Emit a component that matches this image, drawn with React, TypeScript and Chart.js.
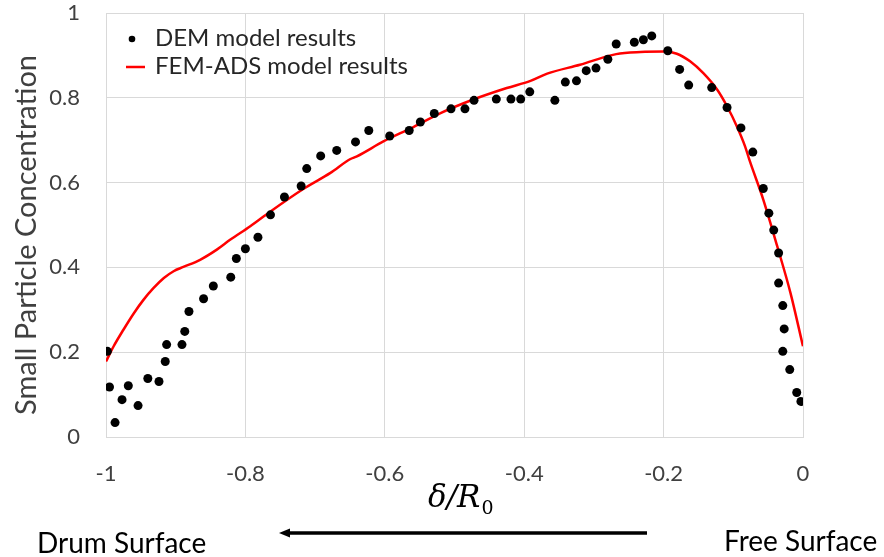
import React, { useEffect, useRef } from "react";
import { Chart, registerables } from "chart.js";

Chart.register(...registerables);

const demX = [-0.998, -0.995, -0.987, -0.977, -0.968, -0.954, -0.94, -0.924, -0.915, -0.913, -0.891, -0.887, -0.881, -0.86, -0.846, -0.821, -0.813, -0.8, -0.782, -0.764, -0.744, -0.72, -0.712, -0.692, -0.669, -0.642, -0.623, -0.593, -0.565, -0.549, -0.529, -0.505, -0.485, -0.472, -0.44, -0.419, -0.405, -0.392, -0.356, -0.341, -0.325, -0.311, -0.297, -0.28, -0.268, -0.242, -0.229, -0.217, -0.194, -0.177, -0.164, -0.131, -0.109, -0.089, -0.072, -0.057, -0.049, -0.042, -0.035, -0.035, -0.029, -0.027, -0.029, -0.019, -0.009, -0.003];
const demY = [0.202, 0.118, 0.034, 0.088, 0.121, 0.074, 0.138, 0.131, 0.178, 0.218, 0.218, 0.249, 0.296, 0.326, 0.356, 0.377, 0.421, 0.444, 0.471, 0.524, 0.566, 0.592, 0.633, 0.663, 0.676, 0.696, 0.723, 0.71, 0.723, 0.743, 0.763, 0.774, 0.774, 0.794, 0.797, 0.797, 0.797, 0.814, 0.794, 0.837, 0.84, 0.864, 0.87, 0.891, 0.927, 0.931, 0.937, 0.946, 0.911, 0.867, 0.83, 0.824, 0.777, 0.729, 0.672, 0.586, 0.528, 0.488, 0.434, 0.363, 0.31, 0.255, 0.202, 0.159, 0.105, 0.084];

const femX = [-1, -0.989, -0.975, -0.96, -0.946, -0.932, -0.917, -0.903, -0.889, -0.865, -0.841, -0.822, -0.793, -0.764, -0.717, -0.678, -0.65, -0.64, -0.602, -0.559, -0.52, -0.473, -0.425, -0.391, -0.367, -0.32, -0.268, -0.233, -0.2, -0.181, -0.162, -0.143, -0.123, -0.109, -0.095, -0.083, -0.077, -0.057, -0.037, -0.018, 0];
const femY = [0.178, 0.214, 0.253, 0.292, 0.324, 0.351, 0.375, 0.391, 0.401, 0.418, 0.442, 0.465, 0.497, 0.532, 0.585, 0.623, 0.655, 0.662, 0.697, 0.731, 0.764, 0.796, 0.823, 0.84, 0.857, 0.878, 0.903, 0.908, 0.909, 0.904, 0.886, 0.858, 0.819, 0.78, 0.733, 0.685, 0.654, 0.56, 0.45, 0.34, 0.214];

const xTickLabels = ["-1", "-0.8", "-0.6", "-0.4", "-0.2", "0"];
const yTickLabels = ["0", "0.2", "0.4", "0.6", "0.8", "1"];

const seriesNames = ["DEM model results", "FEM-ADS model results"];
const yTitle = "Small Particle Concentration";
const leftNote = "Drum Surface";
const rightNote = "Free Surface";

const FONT = "Lato, 'Open Sans', sans-serif";

const overlay = {
  id: "overlay",
  afterDraw(chart: any) {
    const ctx = chart.ctx as CanvasRenderingContext2D;
    ctx.save();
    // legend
    ctx.fillStyle = "#000";
    ctx.beginPath();
    ctx.arc(132, 39, 3.3, 0, Math.PI * 2);
    ctx.fill();
    ctx.strokeStyle = "#ff0000";
    ctx.lineWidth = 2.5;
    ctx.beginPath();
    ctx.moveTo(126, 67);
    ctx.lineTo(145, 67);
    ctx.stroke();
    ctx.fillStyle = "#262626";
    ctx.font = `24px ${FONT}`;
    ctx.textBaseline = "alphabetic";
    ctx.textAlign = "left";
    ctx.fillText(seriesNames[0], 155, 45.5);
    ctx.fillText(seriesNames[1], 155, 73.5);

    // y title
    ctx.save();
    ctx.translate(27, 235);
    ctx.rotate(-Math.PI / 2);
    ctx.textAlign = "center";
    ctx.textBaseline = "middle";
    ctx.fillStyle = "#404040";
    ctx.font = `29px ${FONT}`;
    ctx.fillText(yTitle, 0, 0);
    ctx.restore();

    // x title delta/R0
    ctx.fillStyle = "#000";
    ctx.textAlign = "left";
    ctx.textBaseline = "alphabetic";
    ctx.font = `italic 31px 'DejaVu Serif', serif`;
    ctx.fillText("\u03B4/R", 428, 507);
    const w = ctx.measureText("\u03B4/R").width;
    ctx.font = `19px 'DejaVu Serif', serif`;
    ctx.fillText("0", 428 + w + 1, 514);

    // bottom notes
    ctx.font = `28px ${FONT}`;
    ctx.fillStyle = "#000";
    ctx.fillText(leftNote, 37, 553);
    ctx.fillText(rightNote, 724, 551);

    // arrow
    ctx.strokeStyle = "#000";
    ctx.lineWidth = 3.5;
    ctx.beginPath();
    ctx.moveTo(647, 533);
    ctx.lineTo(286, 533);
    ctx.stroke();
    ctx.beginPath();
    ctx.moveTo(279, 533);
    ctx.lineTo(290, 528.5);
    ctx.lineTo(290, 537.5);
    ctx.closePath();
    ctx.fill();
    ctx.restore();
  },
};

export default function App() {
  const ref = useRef<HTMLCanvasElement | null>(null);
  useEffect(() => {
    if (!ref.current) return;
    const chart = new Chart(ref.current, {
      type: "scatter",
      data: {
        datasets: [
          {
            label: seriesNames[0],
            data: demX.map((x, i) => ({ x, y: demY[i] })),
            backgroundColor: "#000",
            borderWidth: 0,
            pointRadius: 4.5,
            order: 1,
          },
          {
            label: seriesNames[1],
            data: femX.map((x, i) => ({ x, y: femY[i] })),
            showLine: true,
            borderColor: "#ff0000",
            borderWidth: 2.5,
            pointRadius: 0,
            cubicInterpolationMode: "monotone",
            order: 2,
          } as any,
        ],
      },
      options: {
        animation: false,
        responsive: false,
        layout: { padding: { left: 0, top: 13, right: 81, bottom: 0 } },
        plugins: { legend: { display: false }, tooltip: { enabled: false } },
        scales: {
          x: {
            type: "linear",
            min: -1,
            max: 0,
            afterFit: (s: any) => {
              s.height = 120;
              s.paddingLeft = 0;
              s.paddingRight = 0;
            },
            grid: { color: "#d9d9d9", drawTicks: false },
            border: { color: "#d9d9d9" },
            ticks: {
              stepSize: 0.2,
              padding: 24,
              color: "#404040",
              font: { family: FONT, size: 22 },
              callback: (v: any) => xTickLabels[Math.round((Number(v) + 1) / 0.2)],
            },
          },
          y: {
            type: "linear",
            min: 0,
            max: 1,
            afterFit: (s: any) => {
              s.width = 106;
              s.paddingTop = 0;
              s.paddingBottom = 0;
            },
            grid: { color: "#d9d9d9", drawTicks: false },
            border: { color: "#d9d9d9" },
            ticks: {
              stepSize: 0.2,
              padding: 26,
              color: "#404040",
              font: { family: FONT, size: 22 },
              callback: (v: any) => yTickLabels[Math.round(Number(v) / 0.2)],
            },
          },
        },
      },
      plugins: [overlay],
    });
    return () => chart.destroy();
  }, []);
  return (
    <div style={{ position: "absolute", left: 0, top: 0, width: 884, height: 557 }}>
      <canvas ref={ref} width={884} height={557} />
    </div>
  );
}
